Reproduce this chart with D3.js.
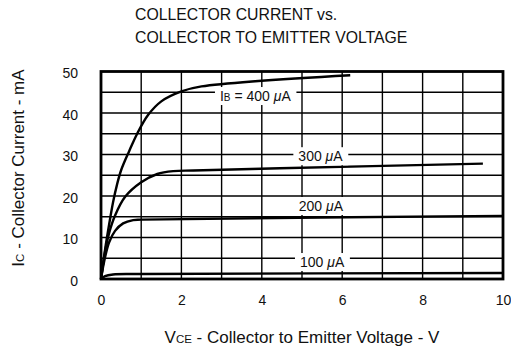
<!DOCTYPE html>
<html>
<head>
<meta charset="utf-8">
<script src="https://cdn.jsdelivr.net/npm/d3@7"></script>
<style>
  body { margin: 0; background: #fff; }
  svg { display: block; font-family: "Liberation Sans", Arial, Helvetica, sans-serif; }
</style>
</head>
<body>
<div id="chart"></div>
<script>
// readings: [Vce (V), Ic (mA)]
let ib400 = [[0, 0], [0.1, 7], [0.2, 13], [0.3, 18.5], [0.4, 22.8], [0.5, 26.2], [0.7, 30.8],
             [0.9, 35], [1.17, 39.5], [1.5, 42.8], [2.0, 45.2], [2.5, 46.4], [6.2, 49.1]];
let ib300 = [[0, 0], [0.1, 6.5], [0.2, 11], [0.35, 15.3], [0.6, 19.8], [1.0, 23.3], [1.4, 25.3],
             [1.8, 26.0], [2.3, 26.15], [4.45, 26.7], [9.5, 27.8]];
let ib200 = [[0, 0], [0.05, 2.8], [0.1, 5.2], [0.2, 8.8], [0.35, 11.6], [0.55, 13.4], [0.8, 14.2],
             [1.0, 14.3], [10, 15.2]];
let ib100 = [[0, 0], [0.1, 0.7], [0.3, 1.1], [1.0, 1.2], [10, 1.45]];

let seriesNames = ["400", "300", "200", "100"];
let xTicks = [0, 2, 4, 6, 8, 10];
let yTicks = [0, 10, 20, 30, 40, 50];

let width = 511, height = 351;
let margin = {top: 71.5, right: 8, bottom: 72, left: 101};

let svg = d3.select("#chart").append("svg")
    .attr("width", width)
    .attr("height", height);

let x = d3.scaleLinear().domain([0, 10]).range([margin.left, width - margin.right]);
let y = d3.scaleLinear().domain([0, 50]).range([height - margin.bottom, margin.top]);

// title
let title = svg.append("text")
    .attr("x", 135)
    .attr("y", 20)
    .style("font-size", "15.8px")
    .attr("fill", "#111");
title.append("tspan").attr("x", 135).attr("dy", 0).text("COLLECTOR CURRENT vs.");
title.append("tspan").attr("x", 135).attr("dy", 22.5).text("COLLECTOR TO EMITTER VOLTAGE");

// grid: every 1 V and every 5 mA
let grid = svg.append("g").attr("stroke", "#000").attr("stroke-width", 1.4);
grid.selectAll(".vgrid")
    .data(d3.range(1, 10))
    .enter().append("line")
    .attr("x1", d => x(d)).attr("x2", d => x(d))
    .attr("y1", y(50)).attr("y2", y(0));
grid.selectAll(".hgrid")
    .data(d3.range(5, 50, 5))
    .enter().append("line")
    .attr("x1", x(0)).attr("x2", x(10))
    .attr("y1", d => y(d)).attr("y2", d => y(d));

// curves
let line = d3.line()
    .x(d => x(d[0]))
    .y(d => y(d[1]))
    .curve(d3.curveCatmullRom.alpha(0.5));

svg.append("g").selectAll("path")
    .data([ib400, ib300, ib200, ib100])
    .enter().append("path")
    .attr("d", line)
    .attr("fill", "none")
    .attr("stroke", "#000")
    .attr("stroke-width", 2.4);

// frame
svg.append("rect")
    .attr("x", x(0)).attr("y", y(50))
    .attr("width", x(10) - x(0)).attr("height", y(0) - y(50))
    .attr("fill", "none")
    .attr("stroke", "#000")
    .attr("stroke-width", 2.8);

// curve labels with white boxes that break the grid
let labelAt = [[3.84, 44.1], [5.46, 29.6], [5.47, 17.6], [5.5, 4.1]];
seriesNames.forEach(function(name, i) {
    let g = svg.append("g")
        .attr("transform", "translate(" + x(labelAt[i][0]) + "," + y(labelAt[i][1]) + ")");
    let box = g.append("rect").attr("fill", "#fff");
    let t = g.append("text")
        .attr("text-anchor", "middle")
        .attr("dy", "0.36em")
        .style("font-size", "14px")
        .attr("fill", "#111");
    if (i === 0) {
        t.append("tspan").text("I");
        t.append("tspan").style("font-size", "10px").text("B");
        t.append("tspan").text(" = ");
    }
    t.append("tspan").text(name + " ");
    t.append("tspan").style("font-style", "italic").text("\u03bc");
    t.append("tspan").text("A");
    let bb = t.node().getBBox();
    box.attr("x", bb.x - 5).attr("y", bb.y - 1)
        .attr("width", bb.width + 10).attr("height", bb.height + 2);
});

// axes (labels only)
let xAxis = svg.append("g")
    .attr("transform", "translate(0," + (y(0) + 13) + ")")
    .call(d3.axisBottom(x).tickValues(xTicks).tickSize(0).tickFormat(d3.format("d")));
xAxis.select(".domain").remove();
xAxis.selectAll("text").style("font-size", "14px").attr("fill", "#111")
    .style("font-family", "Liberation Sans, Arial, sans-serif");

let yAxis = svg.append("g")
    .attr("transform", "translate(" + (x(0) - 20) + ",2)")
    .call(d3.axisLeft(y).tickValues(yTicks).tickSize(0).tickFormat(d3.format("d")));
yAxis.select(".domain").remove();
yAxis.selectAll("text").style("font-size", "14px").attr("fill", "#111")
    .style("font-family", "Liberation Sans, Arial, sans-serif");

// axis titles
let xt = svg.append("text")
    .attr("x", (x(0) + x(10)) / 2)
    .attr("y", 343)
    .attr("text-anchor", "middle")
    .style("font-size", "17px")
    .attr("fill", "#111");
xt.append("tspan").text("V");
xt.append("tspan").style("font-size", "11.5px").text("CE");
xt.append("tspan").text(" - Collector to Emitter Voltage - V");

let yt = svg.append("text")
    .attr("transform", "translate(24,168) rotate(-90)")
    .attr("text-anchor", "middle")
    .style("font-size", "17px")
    .attr("fill", "#111");
yt.append("tspan").text("I");
yt.append("tspan").style("font-size", "11.5px").text("C");
yt.append("tspan").text(" - Collector Current - mA");
</script>
</body>
</html>
